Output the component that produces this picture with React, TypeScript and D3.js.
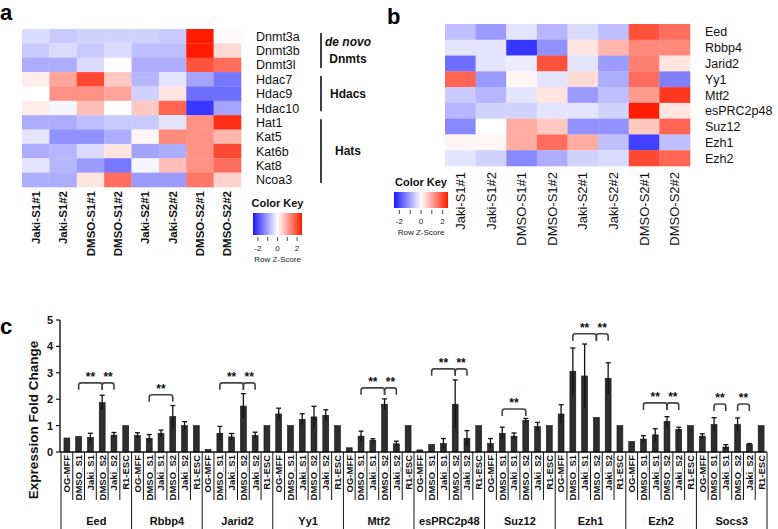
import React from "react";
import * as d3 from "d3";

const samples = ["Jaki-S1#1", "Jaki-S1#2", "DMSO-S1#1", "DMSO-S1#2", "Jaki-S2#1", "Jaki-S2#2", "DMSO-S2#1", "DMSO-S2#2"];

const rowsA = ["Dnmt3a", "Dnmt3b", "Dnmt3l", "Hdac7", "Hdac9", "Hdac10", "Hat1", "Kat5", "Kat6b", "Kat8", "Ncoa3"];
const zA = [
  [-0.4, -0.6, -0.5, -0.5, -0.5, -0.6, 2.6, 0.05],
  [-0.6, -0.4, -0.6, -0.4, -0.7, -0.7, 2.5, 0.4],
  [-0.9, -0.9, -0.4, 0.0, -0.9, -0.9, 1.9, 1.6],
  [0.2, 1.0, 2.0, 0.6, -0.8, -0.3, -1.0, -1.5],
  [0.0, 1.2, 1.2, 1.0, -0.5, 0.3, -1.6, -1.6],
  [0.2, -0.1, 0.7, 0.0, 0.6, 1.7, -2.2, -1.0],
  [-0.9, -0.9, -0.7, -0.6, -0.6, -0.3, 1.2, 2.3],
  [-0.3, -1.2, -1.2, -0.9, 0.1, 1.3, 1.2, 0.8],
  [-0.9, -0.8, -0.4, 0.3, -1.0, -0.9, 1.2, 2.0],
  [-0.3, -0.8, -1.1, -1.5, -0.1, 0.7, 1.2, 1.6],
  [-0.9, -0.9, 0.3, 1.6, -1.1, -1.1, 1.5, 0.5],
];
const groupsA = [
  { label: ["de novo", "Dnmts"], from: 0, to: 2 },
  { label: ["Hdacs"], from: 3, to: 5 },
  { label: ["Hats"], from: 6, to: 10 },
];

const rowsB = ["Eed", "Rbbp4", "Jarid2", "Yy1", "Mtf2", "esPRC2p48", "Suz12", "Ezh1", "Ezh2"];
const zB = [
  [-0.7, -1.1, -0.3, -0.8, -0.4, -0.7, 1.9, 1.6],
  [-0.3, -0.3, -2.2, -1.2, 0.3, 0.8, 1.3, 1.3],
  [-1.6, -0.3, -0.2, 1.9, -0.3, -1.1, 1.4, 0.3],
  [1.7, -1.1, 0.1, -0.3, 0.4, -0.9, 1.6, -1.4],
  [-0.6, -0.8, -0.3, 0.3, -1.1, -0.7, 1.1, 2.2],
  [-0.8, -0.5, -0.5, -0.3, -0.3, -0.5, 2.6, 0.3],
  [-1.3, 0.0, 0.9, 0.6, -1.2, -1.2, 0.6, 1.7],
  [0.1, 0.1, 0.9, 1.6, 0.9, -0.7, -2.1, -0.7],
  [-0.3, -0.5, -1.3, -0.9, -0.5, -0.4, 2.0, 1.7],
];

const keyTicks = [-2, -1, 0, 1, 2];
const keyTickLabels = [-2, 0, 2];

const genes = ["Eed", "Rbbp4", "Jarid2", "Yy1", "Mtf2", "esPRC2p48", "Suz12", "Ezh1", "Ezh2", "Socs3"];
const conditions = ["OG-MFF", "DMSO_S1", "Jaki_S1", "DMSO_S2", "Jaki_S2", "R1-ESC"];
const meanVals = [
  [0.53, 0.59, 0.55, 1.87, 0.64, 1.0],
  [0.63, 0.52, 0.71, 1.34, 1.0, 1.0],
  [0.1, 0.71, 0.57, 1.74, 0.63, 1.0],
  [1.44, 1.0, 1.24, 1.33, 1.39, 1.0],
  [0.16, 0.6, 0.44, 1.81, 0.31, 1.0],
  [0.08, 0.29, 0.32, 1.81, 0.52, 1.0],
  [0.32, 0.71, 0.6, 1.2, 0.96, 1.0],
  [1.44, 3.06, 2.88, 1.31, 2.79, 1.0],
  [0.4, 0.49, 0.65, 1.16, 0.86, 1.0],
  [0.6, 1.04, 0.19, 1.04, 0.28, 1.0],
];
const errVals = [
  [0, 0, 0.16, 0.28, 0.1, 0],
  [0.1, 0.14, 0.12, 0.42, 0.15, 0],
  [0, 0.26, 0.13, 0.47, 0.12, 0],
  [0.22, 0, 0.21, 0.4, 0.21, 0],
  [0, 0.19, 0.06, 0.2, 0.1, 0],
  [0, 0, 0.19, 0.92, 0.29, 0],
  [0.19, 0.23, 0.12, 0.07, 0.16, 0],
  [0.35, 0.88, 1.21, 0, 0.59, 0],
  [0, 0.13, 0.23, 0.18, 0.08, 0],
  [0.09, 0.26, 0.09, 0.25, 0.04, 0],
];
// [gene index, from condition, to condition, level]
const brackets: [number, number, number, number][] = [
  [0, 1, 3, 2.62], [0, 3, 4, 2.62],
  [1, 1, 3, 2.17],
  [2, 1, 3, 2.62], [2, 3, 4, 2.62],
  [4, 1, 3, 2.43], [4, 3, 4, 2.43],
  [5, 1, 3, 3.15], [5, 3, 4, 3.15],
  [6, 1, 3, 1.63],
  [7, 1, 3, 4.48], [7, 3, 4, 4.48],
  [8, 1, 3, 1.86], [8, 3, 4, 1.86],
  [9, 1, 2, 1.82], [9, 3, 4, 1.82],
];
const yTicks = [0, 1, 2, 3, 4, 5];

const FONT = "'Liberation Sans', Arial, Helvetica, sans-serif";

const color = d3.scaleLinear<string>().domain([-2.5, 0, 2.5]).range(["#1c1cff", "#ffffff", "#ff1c00"]).clamp(true);

function Heatmap({ rows, z, x0, x1, y0, y1, labelX, labelSize, colLabelTop, colLabelSize, colLabelBold }: any) {
  const xs = d3.scaleBand<string>().domain(samples).range([x0, x1]);
  const ys = d3.scaleBand<string>().domain(rows).range([y0, y1]);
  return (
    <g>
      {rows.map((r: string, i: number) =>
        samples.map((s, j) => (
          <rect key={r + s} x={xs(s)} y={ys(r)} width={xs.bandwidth() + 0.3} height={ys.bandwidth() + 0.3} fill={color(z[i][j])} />
        ))
      )}
      {rows.map((r: string) => (
        <text key={r} x={labelX} y={(ys(r) as number) + ys.bandwidth() / 2 + labelSize * 0.36} fontSize={labelSize} fontFamily={FONT} fill="#111">
          {r}
        </text>
      ))}
      {samples.map((s) => {
        const cx = (xs(s) as number) + xs.bandwidth() / 2 + colLabelSize * 0.36;
        return (
          <text key={s} transform={`translate(${cx},${colLabelTop}) rotate(-90)`} textAnchor="end" fontSize={colLabelSize} fontWeight={colLabelBold ? "bold" : "normal"} fontFamily={FONT} fill="#111">
            {s}
          </text>
        );
      })}
    </g>
  );
}

function ColorKey({ id, x, y, w, h }: any) {
  const ks = d3.scaleLinear().domain([-2.5, 2.5]).range([x, x + w]);
  const stops = d3.range(0, 11).map((i) => -2.5 + i * 0.5);
  return (
    <g fontFamily={FONT}>
      <defs>
        <linearGradient id={id} x1="0" x2="1" y1="0" y2="0">
          {stops.map((v) => (
            <stop key={v} offset={(v + 2.5) / 5} stopColor={color(v)} />
          ))}
        </linearGradient>
      </defs>
      <text x={x + w / 2} y={y - 6} textAnchor="middle" fontSize={11} fontWeight="bold" fill="#111">Color Key</text>
      <rect x={x} y={y} width={w} height={h} fill={`url(#${id})`} />
      {keyTicks.map((t) => (
        <line key={t} x1={ks(t)} x2={ks(t)} y1={y + h + 2} y2={y + h + 6} stroke="#222" strokeWidth={0.8} />
      ))}
      {keyTickLabels.map((t) => (
        <text key={t} x={ks(t)} y={y + h + 16} textAnchor="middle" fontSize={8} fill="#222">{t}</text>
      ))}
      <text x={x + w / 2} y={y + h + 27} textAnchor="middle" fontSize={8} fill="#222">Row Z-Score</text>
    </g>
  );
}

function PanelA() {
  const y0 = 29, y1 = 187;
  const ys = d3.scaleBand<string>().domain(rowsA).range([y0, y1]);
  return (
    <g>
      <text x={0} y={20} fontSize={22} fontWeight="bold" fontFamily={FONT}>a</text>
      <Heatmap rows={rowsA} z={zA} x0={22} x1={241} y0={y0} y1={y1} labelX={256} labelSize={12.5} colLabelTop={191} colLabelSize={11.5} colLabelBold={true} />
      {groupsA.map((g, i) => {
        const top = (ys(rowsA[g.from]) as number) + 4;
        const bot = (ys(rowsA[g.to]) as number) + ys.bandwidth() - 4;
        const mid = (top + bot) / 2;
        return (
          <g key={i}>
            <line x1={321} x2={321} y1={top} y2={bot} stroke="#111" strokeWidth={1.6} />
            {g.label.map((l, k) => (
              <text key={l} x={348} y={mid + 4 + (k - (g.label.length - 1) / 2) * 17} textAnchor="middle" fontSize={12} fontWeight="bold" fontStyle={l === "de novo" ? "italic" : "normal"} fontFamily={FONT} fill="#111">
                {l}
              </text>
            ))}
          </g>
        );
      })}
      <ColorKey id="gradA" x={253} y={213} w={49} h={22} />
    </g>
  );
}

function PanelB() {
  return (
    <g>
      <text x={387} y={24} fontSize={22} fontWeight="bold" fontFamily={FONT}>b</text>
      <Heatmap rows={rowsB} z={zB} x0={445} x1={690} y0={24} y1={166} labelX={705} labelSize={12.5} colLabelTop={172} colLabelSize={13} colLabelBold={false} />
      <ColorKey id="gradB" x={394} y={192} w={54} h={16} />
    </g>
  );
}

function PanelC() {
  const X0 = 61, X1 = 767, Y0 = 452;
  const y = d3.scaleLinear().domain([0, 5]).range([Y0, 320]);
  const gx = d3.scaleBand<string>().domain(genes).range([X0, X1]);
  const cx = d3.scaleBand<string>().domain(conditions).range([0, gx.bandwidth()]);
  const slot = cx.bandwidth();
  const bw = slot * 0.5;
  const barX = (g: number, c: number) => (gx(genes[g]) as number) + (cx(conditions[c]) as number) + slot / 2;
  return (
    <g fontFamily={FONT}>
      <text x={0} y={334} fontSize={22} fontWeight="bold">c</text>
      <text transform={`translate(38,420) rotate(-90)`} textAnchor="middle" fontSize={13.5} fontWeight="bold" fill="#111">
        Expression Fold Change
      </text>
      <line x1={X0 - 1} x2={X0 - 1} y1={y(5)} y2={Y0} stroke="#111" strokeWidth={1.4} />
      {yTicks.map((t) => (
        <g key={t}>
          <line x1={X0 - 5} x2={X0 - 1} y1={y(t)} y2={y(t)} stroke="#111" strokeWidth={1.2} />
          <text x={X0 - 8} y={y(t) + 4} textAnchor="end" fontSize={11} fontWeight="bold" fill="#111">{t}</text>
        </g>
      ))}
      {genes.map((gname, g) =>
        conditions.map((c, k) => {
          const v = meanVals[g][k];
          const e = errVals[g][k];
          const bx = barX(g, k);
          return (
            <g key={gname + c}>
              <rect x={bx - bw / 2} y={y(v)} width={bw} height={Y0 - y(v)} fill="#2e2e2e" stroke="#111" strokeWidth={0.6} />
              {e > 0 && (
                <g stroke="#111" strokeWidth={1.3}>
                  <line x1={bx} x2={bx} y1={y(v - e)} y2={y(v + e)} />
                  <line x1={bx - 2.5} x2={bx + 2.5} y1={y(v + e)} y2={y(v + e)} />
                </g>
              )}
            </g>
          );
        })
      )}
      <line x1={X0 - 1} x2={X1} y1={Y0} y2={Y0} stroke="#111" strokeWidth={1.4} />
      {genes.map((gname, g) =>
        conditions.map((c, k) => {
          const left = (gx(gname) as number) + (cx(c) as number);
          const isGroupEdge = k === 0;
          return (
            <g key={"s" + gname + c}>
              <line x1={left} x2={left} y1={Y0} y2={isGroupEdge ? 529 : 500} stroke="#111" strokeWidth={1} />
              <text transform={`translate(${left + slot / 2 + 3.4},${Y0 + 3}) rotate(-90)`} textAnchor="end" fontSize={9.5} fontWeight="bold" fill="#111">
                {c}
              </text>
            </g>
          );
        })
      )}
      <line x1={X1} x2={X1} y1={Y0} y2={529} stroke="#111" strokeWidth={1} />
      {genes.map((gname) => (
        <text key={"g" + gname} x={(gx(gname) as number) + gx.bandwidth() / 2} y={525} textAnchor="middle" fontSize={11} fontWeight="bold" fill="#111">
          {gname}
        </text>
      ))}
      {brackets.map(([g, a, b, lvl], i) => {
        const xa = barX(g, a), xb = barX(g, b), yb = y(lvl);
        const r = 2.5;
        const d = `M${xa},${yb + 7} L${xa},${yb + r} Q${xa},${yb} ${xa + r},${yb} L${xb - r},${yb} Q${xb},${yb} ${xb},${yb + r} L${xb},${yb + 7}`;
        return (
          <g key={"b" + i}>
            <path d={d} fill="none" stroke="#444" strokeWidth={1.6} />
            <text x={(xa + xb) / 2} y={yb - 2} textAnchor="middle" fontSize={12} fontWeight="bold" fill="#111">**</text>
          </g>
        );
      })}
    </g>
  );
}

export default function App() {
  return (
    <svg width={778} height={529} style={{ position: "absolute", left: 0, top: 0, background: "#fff" }}>
      <rect width={778} height={529} fill="#fff" />
      <PanelA />
      <PanelB />
      <PanelC />
    </svg>
  );
}
